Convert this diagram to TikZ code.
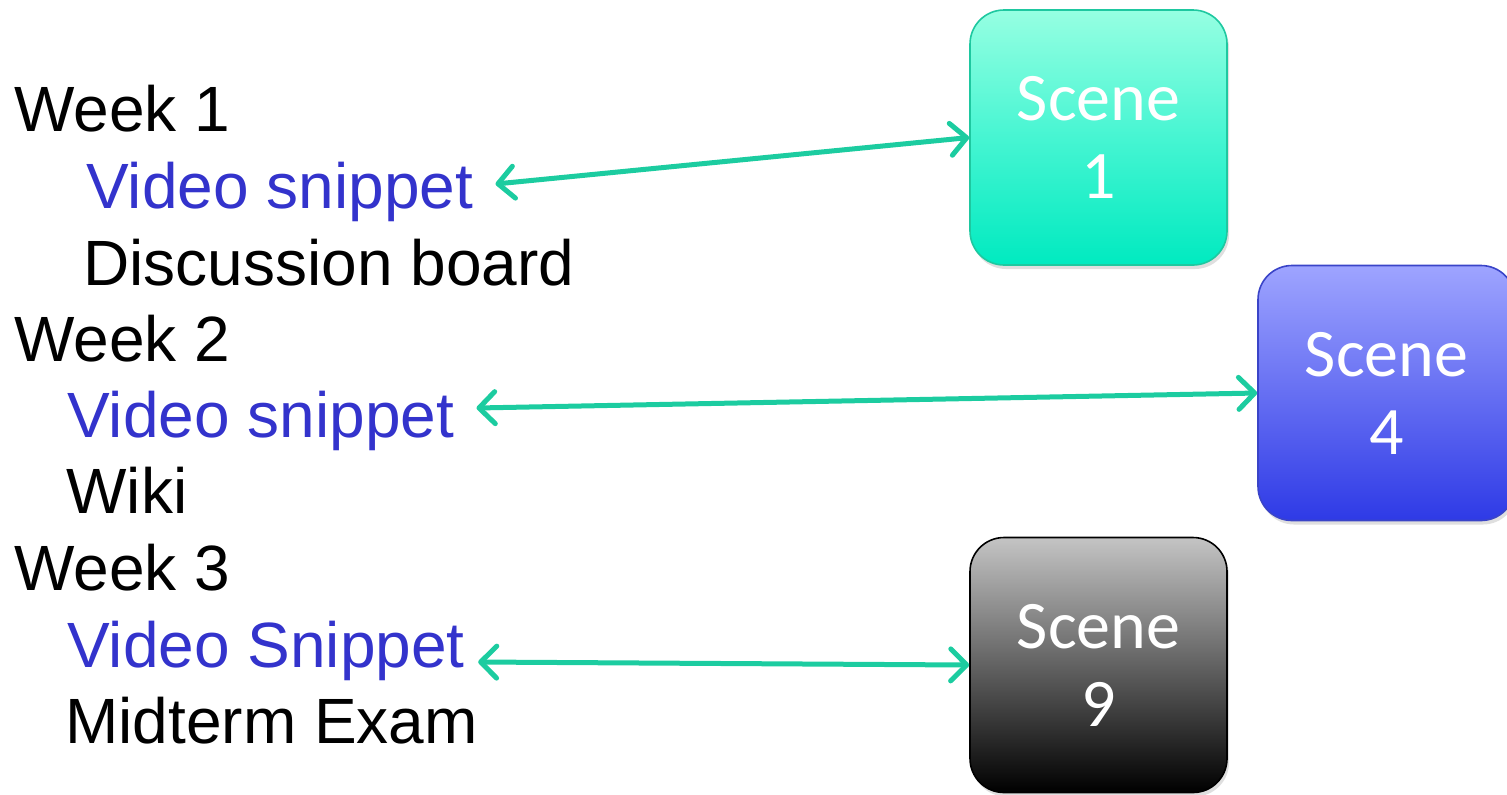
\documentclass[tikz,border=0pt]{standalone}
\usepackage{fontspec}
\setmainfont{Liberation Sans}
\newfontfamily\calib{Carlito}
\usetikzlibrary{arrows.meta,shadows}
\definecolor{arrowgreen}{RGB}{28,204,160}
\definecolor{itemblue}{RGB}{51,51,204}
\definecolor{aquatop}{RGB}{150,255,226}
\definecolor{aquamid}{RGB}{70,245,210}
\definecolor{aquabot}{RGB}{0,234,192}
\definecolor{aquaedge}{RGB}{30,200,160}
\definecolor{bluetop}{RGB}{158,164,255}
\definecolor{bluebot}{RGB}{46,58,230}
\definecolor{blueedge}{RGB}{58,68,200}
\definecolor{graytop}{RGB}{196,196,196}
\tikzset{
  item/.style={anchor=base west, inner sep=0pt, font=\fontsize{32pt}{38pt}\selectfont},
  weekitem/.style={item, text=black},
  videoitem/.style={item, text=itemblue},
  scenebox/.style={rounded corners=17pt, minimum width=128.5pt, minimum height=127.5pt,
    line width=0.8pt, text=white, align=center, inner sep=0pt,
    font=\calib\fontsize{34pt}{39pt}\selectfont,
    drop shadow={opacity=0.25, shadow xshift=1pt, shadow yshift=-2pt}},
  link/.style={draw=arrowgreen, line width=2.5pt, line cap=round,
    {Straight Barb[length=8pt,width=16pt,round]}-{Straight Barb[length=8pt,width=16pt,round]}}
}
\begin{document}
\begin{tikzpicture}[x=0.5pt,y=-0.5pt]
\useasboundingbox (0,0) rectangle (1507,794);
% list
\node[weekitem] (w1) at (14,131) {Week 1};
\node[videoitem] (v1) at (86,208) {Video snippet};
\node[weekitem] (d1) at (83,285) {Discussion board};
\node[weekitem] (w2) at (14,361) {Week 2};
\node[videoitem] (v2) at (67,437) {Video snippet};
\node[weekitem] (k2) at (66,513) {Wiki};
\node[weekitem] (w3) at (14,590) {Week 3};
\node[videoitem] (v3) at (67,667) {Video Snippet};
\node[weekitem] (m3) at (65,743) {Midterm Exam};
% scene boxes
\node[scenebox, draw=aquaedge, top color=aquatop, bottom color=aquabot, middle color=aquamid] (s1) at (1098.5,137.5) {Scene\\1};
\node[scenebox, draw=blueedge, top color=bluetop, bottom color=bluebot] (s4) at (1386.5,393) {Scene\\4};
\node[scenebox, draw=black, top color=graytop, bottom color=black] (s9) at (1098.5,665) {Scene\\9};
% links
\draw[link] ([xshift=11pt,yshift=12pt]v1.base east) -- (s1.west);
\draw[link] ([xshift=11pt,yshift=14.5pt]v2.base east) -- (s4.west);
\draw[link] ([xshift=6.5pt,yshift=2.5pt]v3.base east) -- (s9.west);
\end{tikzpicture}
\end{document}
